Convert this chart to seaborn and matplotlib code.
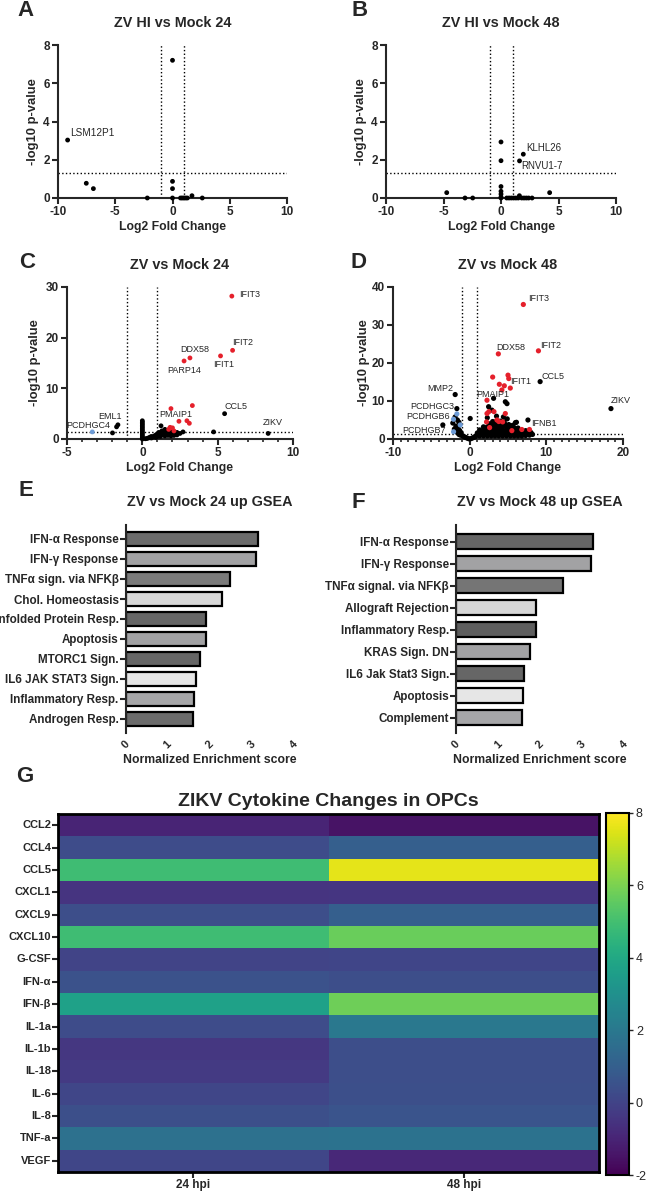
import numpy as np
import pandas as pd
import matplotlib
matplotlib.use('Agg')
import matplotlib.pyplot as plt
import seaborn as sns

W, H = 649, 1196

# ---------------- data ----------------
# A: ZV HI vs Mock 24
a_x = [-9.16, -7.53, -6.91, -2.2, 0.0, 0.0, 0.0, 0.0, 0.7, 0.85, 1.0, 1.15, 1.3, 1.7, 2.6]
a_y = [3.03, 0.77, 0.49, 0.0, 7.2, 0.87, 0.49, 0.0, 0.0, 0.0, 0.0, 0.0, 0.0, 0.12, 0.0]
a_genes = ["LSM12P1"]

# B: ZV HI vs Mock 48
b_x = [-4.72, -3.13, -2.46, 0.0, 0.0, 0.0, 0.0, 0.0, 0.0, 0.0, 1.94, 1.61,
       0.5, 0.7, 0.9, 1.1, 1.3, 1.5, 1.6, 1.8, 2.0, 2.2, 2.4, 2.7, 4.23]
b_y = [0.28, 0.0, 0.0, 2.93, 1.95, 0.6, 0.35, 0.2, 0.05, 0.0, 2.29, 1.94,
       0.0, 0.0, 0.0, 0.0, 0.0, 0.0, 0.12, 0.0, 0.0, 0.0, 0.0, 0.0, 0.28]
b_genes = ["KLHL26", "RNVU1-7"]

# C: ZV vs Mock 24
c_up_x = [5.94, 5.99, 5.19, 3.16, 2.77, 3.32, 1.9, 2.43, 2.96, 3.12, 1.84, 2.0, 2.1, 1.75]
c_up_y = [28.2, 17.5, 16.4, 16.0, 15.4, 6.6, 6.0, 3.5, 3.6, 3.1, 2.3, 2.2, 1.6, 1.9]
c_down_x = [-3.32]
c_down_y = [1.4]
c_ns_x = [5.46, 8.35, 4.73, 2.7, 1.24, -1.62, -1.71, -1.98,
          0, 0, 0, 0, 0, 0, 0, 0, 0, 0, 0, 0, 0,
          0.2, 0.3, 0.4, 0.5, 0.6, 0.7, 0.8, 0.9, 1.0, 1.0, 1.1, 1.1, 1.2, 1.3, 1.3, 1.4, 1.4,
          1.5, 1.5, 1.6, 1.6, 1.7, 1.8, 1.8, 1.9, 2.0, 2.1, 2.2, 2.3, 2.5,
          0.6, 0.9, 1.2, 1.5, 1.7, 1.9, 2.1, 2.3]
c_ns_y = [5.0, 1.1, 1.4, 1.4, 2.6, 2.8, 2.4, 1.2,
          0.0, 0.3, 0.6, 0.9, 1.2, 1.5, 1.8, 2.1, 2.4, 2.7, 3.0, 3.3, 3.6,
          0.05, 0.1, 0.2, 0.35, 0.5, 0.4, 0.6, 0.8, 0.5, 1.0, 0.7, 1.3, 0.9, 1.1, 1.6, 0.8, 1.4,
          1.2, 1.9, 0.9, 1.5, 1.2, 1.0, 1.6, 1.3, 0.9, 1.2, 1.0, 1.3, 1.1,
          0.2, 0.3, 0.5, 0.6, 0.7, 0.6, 0.7, 0.8]

# D: ZV vs Mock 48
d_up_x = [7.0, 8.97, 3.74, 3.0, 5.0, 5.1, 3.87, 4.52, 4.2, 5.3, 2.26, 2.26, 3.17, 4.65, 3.56,
          7.8, 2.2, 3.8, 4.3, 2.6, 6.8, 2.5, 5.5]
d_up_y = [35.4, 23.2, 22.4, 16.3, 16.8, 15.9, 14.4, 14.0, 12.9, 13.4, 10.2, 6.7, 7.2, 6.7, 5.0,
          2.5, 4.5, 4.6, 4.5, 3.0, 2.5, 7.2, 2.2]
d_down_x = [-1.67, -2.11, -1.23, -2.1]
d_down_y = [6.6, 5.2, 3.7, 1.9]
d_ns_x = [9.19, 18.43, -1.89, 3.12, 4.65, 4.87, -1.67, 0.07, 7.6, 5.96, 6.1, -3.5, 2.47, 2.9,
          2.3, 3.5, 4.4, 4.9,
          # left group
          -1.9, -1.6, -1.4, -2.2, -1.8, -1.5, -1.3, -1.1, -2.0, -1.7, -1.4, -1.2, -0.9,
          # dip around zero
          -0.7, -0.5, -0.3, -0.1, 0.1, 0.3, 0.5, 0.7,
          # main blob
          0.8, 1.3, 1.8, 2.3, 2.8, 3.3, 3.8, 4.3, 4.8, 5.3, 5.8, 6.3, 6.8, 7.3, 7.8, 8.2,
          1.0, 1.5, 2.0, 2.5, 3.0, 3.5, 4.0, 4.5, 5.0, 5.5, 6.0, 6.5, 7.0, 7.5, 8.0,
          1.3, 1.8, 2.3, 2.8, 3.3, 3.8, 4.3, 4.8, 5.3, 5.8, 6.3, 6.8, 7.3,
          1.8, 2.3, 2.8, 3.3, 3.8, 4.3, 4.8, 5.3, 5.8, 6.3,
          2.6, 3.1, 3.6, 4.1, 4.6, 5.1, 5.6,
          3.0, 3.5, 4.0, 4.5]
d_ns_y = [15.1, 8.0, 11.7, 10.7, 9.8, 9.3, 8.0, 5.4, 5.0, 4.3, 4.4, 3.7, 8.5, 7.6,
          5.6, 6.0, 5.8, 5.3,
          5.8, 5.0, 4.4, 4.2, 3.4, 2.8, 2.2, 1.6, 2.6, 1.8, 1.2, 1.0, 0.8,
          0.6, 0.4, 0.2, 0.05, 0.05, 0.2, 0.4, 0.6,
          0.8, 0.8, 0.8, 0.8, 0.8, 0.8, 0.8, 0.8, 0.8, 0.8, 0.8, 0.8, 0.8, 0.9, 1.0, 1.2,
          1.6, 1.6, 1.6, 1.6, 1.6, 1.6, 1.6, 1.6, 1.6, 1.6, 1.6, 1.6, 1.6, 1.6, 1.7,
          2.4, 2.4, 2.4, 2.4, 2.4, 2.4, 2.4, 2.4, 2.4, 2.4, 2.4, 2.3, 2.2,
          3.2, 3.2, 3.2, 3.2, 3.2, 3.2, 3.2, 3.1, 3.0, 2.9,
          4.0, 4.0, 4.0, 4.0, 3.9, 3.8, 3.6,
          4.6, 4.7, 4.7, 4.5]

# E / F: GSEA
e_terms = ["IFN-α Response", "IFN-γ Response", "TNFα sign. via NFKβ", "Chol. Homeostasis",
           "Unfolded Protein Resp.", "Apoptosis", "MTORC1 Sign.", "IL6 JAK STAT3 Sign.",
           "Inflammatory Resp.", "Androgen Resp."]
e_nes = [3.14, 3.10, 2.49, 2.29, 1.90, 1.90, 1.76, 1.68, 1.62, 1.60]
e_cols = ["#6b6b6b", "#a2a2a4", "#7a7a7a", "#d8d8d8", "#666666", "#a2a2a4", "#666666",
          "#e6e6e6", "#a6a6a8", "#6b6b6b"]

f_terms = ["IFN-α Response", "IFN-γ Response", "TNFα signal. via NFKβ", "Allograft Rejection",
           "Inflammatory Resp.", "KRAS Sign. DN", "IL6 Jak Stat3 Sign.", "Apoptosis", "Complement"]
f_nes = [3.27, 3.22, 2.54, 1.90, 1.90, 1.76, 1.63, 1.60, 1.57]
f_cols = ["#666666", "#a2a2a4", "#757575", "#d6d6d6", "#5e5e5e", "#a2a2a4", "#666666",
          "#e6e6e6", "#a6a6a8"]

# G: cytokine heatmap
cytokines = ["CCL2", "CCL4", "CCL5", "CXCL1", "CXCL9", "CXCL10", "G-CSF", "IFN-α", "IFN-β",
             "IL-1a", "IL-1b", "IL-18", "IL-6", "IL-8", "TNF-a", "VEGF"]
hpi24 = [-1.0, 0.3, 4.9, -0.5, 0.35, 4.9, 0.0, 0.5, 3.7, 0.3, -0.4, -0.3, 0.1, 0.4, 1.7, 0.1]
hpi48 = [-1.5, 1.0, 7.6, -0.45, 1.0, 5.7, 0.05, 0.35, 5.8, 2.0, 0.35, 0.35, 0.4, 0.6, 1.75, -0.9]

# ---------------- style ----------------
sns.set_style("ticks")
plt.rcParams["font.family"] = ["Liberation Sans", "DejaVu Sans"]
plt.rcParams["font.weight"] = "bold"
plt.rcParams["axes.linewidth"] = 1.5

fig = plt.figure(figsize=(W / 100, H / 100), dpi=100)


def px_axes(l, t, r, b):
    return fig.add_axes([l / W, 1 - b / H, (r - l) / W, (b - t) / H])


def letter(x, y, s):
    fig.text(x / W, 1 - y / H, s, fontsize=16, fontweight="bold", ha="center", va="center")


pal = {"ns": "black", "up": "#e5202b", "down": "#6d9bd6"}


def make_df(ns_x, ns_y, up_x=(), up_y=(), dn_x=(), dn_y=()):
    return pd.DataFrame({
        "lfc": list(ns_x) + list(up_x) + list(dn_x),
        "p": list(ns_y) + list(up_y) + list(dn_y),
        "grp": ["ns"] * len(ns_x) + ["up"] * len(up_x) + ["down"] * len(dn_x),
    })


def volcano(ax, df, title, xlim, ylim, xticks, yticks, labels, lsize=6.5, msize=12):
    sns.scatterplot(data=df, x="lfc", y="p", hue="grp", palette=pal, s=msize, linewidth=0,
                    legend=False, ax=ax, zorder=3, clip_on=False)
    ax.axvline(-1, color="black", ls=":", lw=1, zorder=1)
    ax.axvline(1, color="black", ls=":", lw=1, zorder=1)
    ax.axhline(1.3, color="black", ls=":", lw=1, zorder=1)
    ax.set_xlim(*xlim)
    ax.set_ylim(*ylim)
    ax.set_xticks(xticks)
    ax.set_yticks(yticks)
    ax.set_xticklabels([str(t) for t in xticks])
    ax.set_yticklabels([str(t) for t in yticks])
    ax.tick_params(width=1.5, length=4, labelsize=8.5, pad=2)
    for t in ax.get_xticklabels() + ax.get_yticklabels():
        t.set_fontweight("bold")
    ax.set_xlabel("Log2 Fold Change", fontsize=8.8, fontweight="bold", labelpad=2)
    ax.set_ylabel("-log10 p-value", fontsize=9.4, fontweight="bold", labelpad=3)
    ax.set_title(title, fontsize=10.4, fontweight="bold", pad=13)
    sns.despine(ax=ax)
    for name, tx, ty, ha in labels:
        ax.text(tx, ty, name, fontsize=lsize, fontweight="normal", ha=ha, va="center")


axA = px_axes(58, 45, 287, 198)
volcano(axA, make_df(a_x, a_y), "ZV HI vs Mock 24", (-10, 10), (0, 8),
        [-10, -5, 0, 5, 10], [0, 2, 4, 6, 8], [(a_genes[0], -8.92, 3.4, "left")], lsize=7.2)

axB = px_axes(386, 45, 616, 198)
volcano(axB, make_df(b_x, b_y), "ZV HI vs Mock 48", (-10, 10), (0, 8),
        [-10, -5, 0, 5, 10], [0, 2, 4, 6, 8],
        [(b_genes[0], 2.17, 2.6, "left"), (b_genes[1], 1.8, 1.66, "left")], lsize=7)

c_text = [("IFIT3", 6.43, 28.6, "left"), ("IFIT2", 5.96, 19.1, "left"),
          ("DDX58", 3.5, 17.7, "center"), ("PARP14", 2.8, 13.5, "center"),
          ("IFIT1", 5.4, 14.7, "center"), ("PMAIP1", 2.2, 4.9, "center"),
          ("CCL5", 6.2, 6.5, "center"), ("ZIKV", 8.65, 3.3, "center"),
          ("EML1", -2.15, 4.4, "center"), ("PCDHGC4", -3.6, 2.6, "center")]
axC = px_axes(67, 287, 293, 439)
volcano(axC, make_df(c_ns_x, c_ns_y, c_up_x, c_up_y, c_down_x, c_down_y), "ZV vs Mock 24",
        (-5, 10), (0, 30), [-5, 0, 5, 10], [0, 10, 20, 30], c_text)
axC.set_xticks(np.arange(-5, 11, 1), minor=True)
axC.tick_params(axis="x", which="minor", length=2.5, width=1.2)

d_text = [("IFIT3", 7.66, 36.9, "left"), ("IFIT2", 9.15, 24.6, "left"),
          ("DDX58", 5.35, 24.2, "center"), ("IFIT1", 5.26, 15.1, "left"),
          ("CCL5", 9.4, 16.4, "left"), ("ZIKV", 19.7, 10.0, "center"),
          ("MMP2", -2.2, 13.2, "right"), ("PMAIP1", 3.0, 11.8, "center"),
          ("PCDHGC3", -2.06, 8.5, "right"), ("PCDHGB6", -2.54, 5.8, "right"),
          ("PCDHGB7", -3.15, 2.3, "right"), ("IFNB1", 7.97, 4.0, "left")]
axD = px_axes(393, 287, 623, 439)
volcano(axD, make_df(d_ns_x, d_ns_y, d_up_x, d_up_y, d_down_x, d_down_y), "ZV vs Mock 48",
        (-10, 20), (0, 40), [-10, 0, 10, 20], [0, 10, 20, 30, 40], d_text, msize=14)
axD.set_ylabel("-log10 p-value", fontsize=9.4, fontweight="bold", labelpad=1)
axD.set_xticks(np.arange(-10, 21, 1), minor=True)
axD.tick_params(axis="x", which="minor", length=2.5, width=1.2)


def gsea(ax, terms, nes, cols, title, ylim):
    sns.barplot(x=nes, y=terms, hue=terms, palette=cols, legend=False, orient="h",
                edgecolor="black", linewidth=1.6, width=0.68, ax=ax, saturation=1)
    ax.set_xlim(0, 4)
    ax.set_ylim(*ylim)
    ax.set_xticks([0, 1, 2, 3, 4])
    ax.set_xticklabels(["0", "1", "2", "3", "4"], rotation=45, ha="center",
                       fontsize=8, fontweight="bold")
    ax.tick_params(axis="x", length=0, pad=4)
    ax.tick_params(axis="y", width=1.5, length=4, labelsize=8.4, pad=1)
    for t in ax.get_yticklabels():
        t.set_fontweight("bold")
    ax.set_ylabel("")
    ax.set_xlabel("Normalized Enrichment score", fontsize=8.8, fontweight="bold", labelpad=3)
    ax.set_title(title, fontsize=10.4, fontweight="bold", pad=14)
    sns.despine(ax=ax, bottom=True)


axE = px_axes(125.5, 525, 294, 733)
gsea(axE, e_terms, e_nes, e_cols, "ZV vs Mock 24 up GSEA", (9.7, -0.7))
axF = px_axes(456, 525, 624, 733)
gsea(axF, f_terms, f_nes, f_cols, "ZV vs Mock 48 up GSEA", (8.7, -0.77))

# G heatmap
heat = pd.DataFrame({"24 hpi": hpi24, "48 hpi": hpi48}, index=cytokines)
axG = px_axes(58, 814, 599, 1172)
cax = px_axes(605.5, 813, 629, 1175)
sns.heatmap(heat, cmap="viridis", vmin=-2, vmax=8, ax=axG, cbar_ax=cax,
            cbar_kws={"ticks": [-2, 0, 2, 4, 6, 8]})
for s in axG.spines.values():
    s.set_visible(True)
    s.set_linewidth(2)
    s.set_color("black")
axG.tick_params(axis="both", width=1.5, length=4, pad=1)
axG.set_yticklabels(cytokines, rotation=0, fontsize=8, fontweight="bold")
axG.set_xticklabels(["24 hpi", "48 hpi"], fontsize=8.5, fontweight="bold")
axG.set_xlabel("")
axG.set_ylabel("")
axG.set_title("ZIKV Cytokine Changes in OPCs", fontsize=14, fontweight="bold", pad=6)
cax.tick_params(labelsize=9, width=1, length=3, pad=2)
cax.set_yticklabels(["-2", "0", "2", "4", "6", "8"], fontweight="normal")
cbar = axG.collections[0].colorbar
cbar.outline.set_linewidth(1.5)
cbar.outline.set_edgecolor("black")

letter(25, 11, "A")
letter(360, 11, "B")
letter(27, 263, "C")
letter(358, 263, "D")
letter(26, 490, "E")
letter(358, 502, "F")
letter(25, 777, "G")

fig.savefig("out.png", dpi=100)
